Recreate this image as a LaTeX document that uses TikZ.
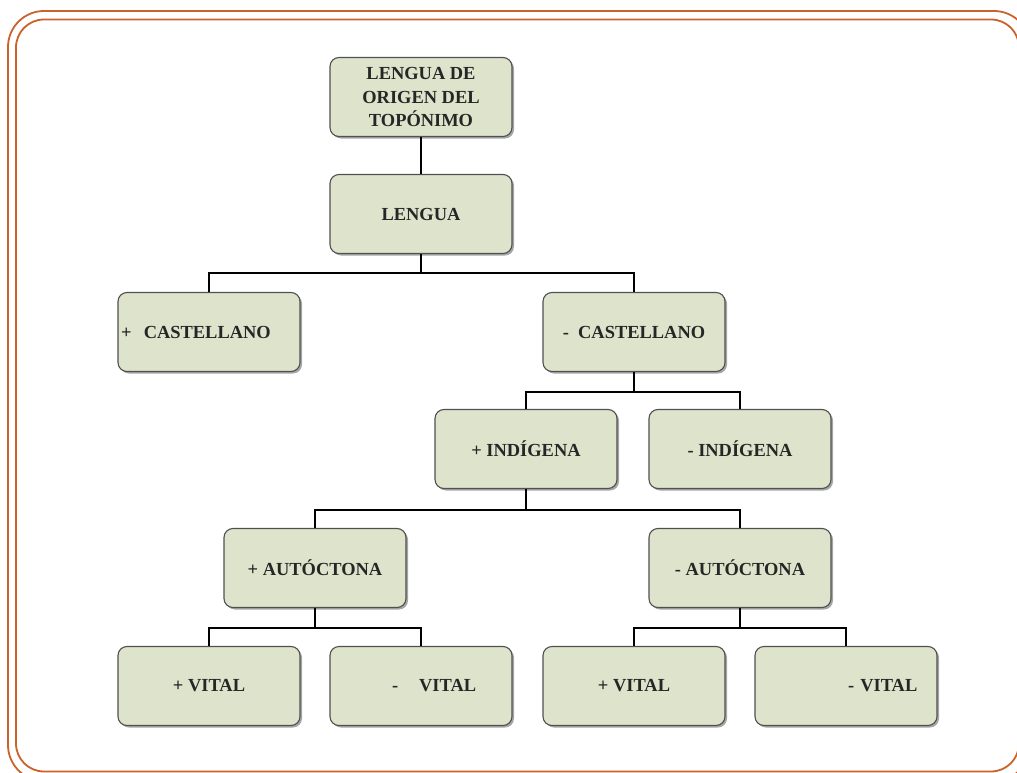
\documentclass[tikz,border=0pt]{standalone}
\usepackage{fontspec}
\setmainfont{Liberation Serif}
\usetikzlibrary{shadows}
\definecolor{boxfill}{HTML}{DEE4CC}
\definecolor{boxline}{HTML}{505050}
\definecolor{framecol}{HTML}{C9622B}
\tikzset{
  box/.style={draw=boxline, line width=1.1bp, fill=boxfill, rounded corners=9bp,
    minimum width=182bp, minimum height=79bp, inner xsep=3bp, inner ysep=0pt,
    font=\fontsize{18.5}{24}\selectfont\bfseries, text=black!85,
    drop shadow={shadow xshift=2bp, shadow yshift=-2bp, opacity=0.35, fill=black}},
  lbox/.style={box, text width=176bp, align=left},
  link/.style={draw=black, line width=1.6bp},
  frame/.style={draw=framecol, line width=1.8bp}
}
\begin{document}
\begin{tikzpicture}[x=1bp,y=-1bp]
\useasboundingbox (0,0) rectangle (1017,773);
\begin{scope}
\clip (0,0) rectangle (1017,773);
\draw[frame, rounded corners=36bp] (8,11) rectangle (1030,781);
\draw[frame, rounded corners=28bp] (16,19.5) rectangle (1019,771.5);
\end{scope}

\node[box, align=center] (root) at (421,97) {LENGUA DE\\ORIGEN DEL\\TOPÓNIMO};
\node[box] (lengua) at (421,214) {LENGUA};
\node[lbox] (pc) at (209,332) {+ \ CASTELLANO};
\node[box] (mc) at (634,332) {- \ CASTELLANO};
\node[box] (pi) at (526,449) {+ INDÍGENA};
\node[box] (mi) at (740,449) {- INDÍGENA};
\node[box] (pa) at (315,568) {+ AUTÓCTONA};
\node[box] (ma) at (740,568) {- AUTÓCTONA};
\node[box] (pv1) at (209,686) {+ VITAL};
\node[lbox] (mv1) at (421,686) {\hspace{59bp}-\hspace{21bp}VITAL};
\node[box] (pv2) at (634,686) {+ VITAL};
\node[lbox] (mv2) at (846,686) {\hspace{90bp}- VITAL};

\draw[link] (root.south) -- (lengua.north);
\draw[link] (lengua.south) -- ++(0,19) -| (pc.north);
\draw[link] (lengua.south) -- ++(0,19) -| (mc.north);
\draw[link] (mc.south) -- ++(0,20) -| (pi.north);
\draw[link] (mc.south) -- ++(0,20) -| (mi.north);
\draw[link] (pi.south) -- ++(0,21) -| (pa.north);
\draw[link] (pi.south) -- ++(0,21) -| (ma.north);
\draw[link] (pa.south) -- ++(0,20) -| (pv1.north);
\draw[link] (pa.south) -- ++(0,20) -| (mv1.north);
\draw[link] (ma.south) -- ++(0,20) -| (pv2.north);
\draw[link] (ma.south) -- ++(0,20) -| (mv2.north);
\end{tikzpicture}
\end{document}
